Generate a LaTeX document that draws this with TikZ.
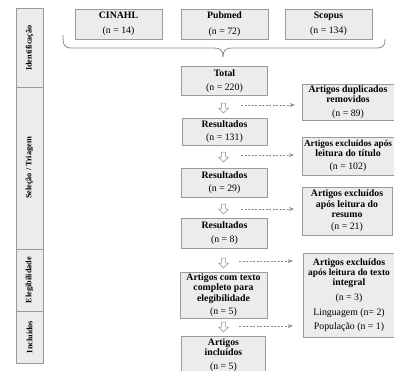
\documentclass[tikz,border=0pt]{standalone}
\usepackage{fontspec}
\setmainfont{Liberation Serif}
\usetikzlibrary{shapes.arrows,arrows.meta}
\definecolor{boxfill}{HTML}{ECECEC}
\definecolor{boxline}{HTML}{9A9A9A}
\definecolor{lnk}{HTML}{8A8A8A}
\begin{document}
\begin{tikzpicture}[x=1pt,y=-1pt,
  box/.style={draw=boxline, fill=boxfill, line width=0.7pt, align=center,
    font=\fontsize{9.8}{10.3}\selectfont, inner sep=1pt},
  side/.style={draw=boxline, fill=boxfill, line width=0.7pt, minimum width=27pt,
    font=\bfseries\fontsize{8.2}{9}\selectfont, inner sep=0pt},
  downarrow/.style={single arrow, draw=lnk, fill=white, line width=0.6pt, rotate=-90,
    minimum height=10pt, minimum width=10pt, single arrow head extend=2pt,
    single arrow head indent=0pt, inner sep=1.2pt},
  dashlink/.style={draw=lnk, dashed, line width=0.6pt, dash pattern=on 2pt off 1.5pt,
    -{Stealth[length=5pt,width=4pt,open]}},
  brace/.style={draw=lnk, line width=0.8pt}]
\useasboundingbox (0,0) rectangle (394,371);
\clip (0,0) rectangle (394,371);

% left stage column
\node[side, minimum height=79pt] (sid) at (29.5,48) {\rotatebox{90}{Identificação}};
\node[side, minimum height=162pt] (ssel) at (29.5,168) {\rotatebox{90}{Seleção / Triagem}};
\node[side, minimum height=62pt] (seleg) at (29.5,280) {\rotatebox{90}{Elegibilidade}};
\node[side, minimum height=52pt] (sinc) at (29.5,337) {\rotatebox{90}{Incluídos}};

% sources
\node[box, minimum width=87pt, minimum height=30pt] (cin) at (118.5,24) {\textbf{CINAHL}\\[5pt](n = 14)};
\node[box, minimum width=87pt, minimum height=30pt] (pub) at (224.5,24) {\textbf{Pubmed}\\[5pt](n = 72)};
\node[box, minimum width=87pt, minimum height=30pt] (sco) at (328.5,24) {\textbf{Scopus}\\[5pt](n = 134)};

% brace
\draw[brace] (63,35) .. controls (63,45) and (64,48) .. (72,48) -- (214,48)
  .. controls (220,48) and (223,50) .. (223,57);
\draw[brace] (223,57) .. controls (223,50) and (226,48) .. (232,48) -- (376,48)
  .. controls (384,48) and (385,45) .. (385,39);

% main column
\node[box, minimum width=86pt, minimum height=29pt] (tot) at (224.5,81) {\textbf{Total}\\[3pt](n = 220)};
\node[box, minimum width=85pt, minimum height=27pt] (r1) at (224.5,131.5) {\textbf{Resultados}\\[3pt](n = 131)};
\node[box, minimum width=86pt, minimum height=29pt] (r2) at (224.5,182.5) {\textbf{Resultados}\\[3pt](n = 29)};
\node[box, minimum width=86pt, minimum height=30pt] (r3) at (224.5,233) {\textbf{Resultados}\\[3pt](n = 8)};
\node[box, minimum width=87pt, minimum height=46pt] (comp) at (223.5,295) {\textbf{Artigos com texto}\\\textbf{completo para}\\\textbf{elegibilidade}\\[3pt](n = 5)};
\node[box, minimum width=84pt, minimum height=38pt] (inc) at (223.5,355) {\textbf{Artigos}\\\textbf{incluídos}\\[4pt](n = 5)};

% exclusion column
\node[box, minimum width=92pt, minimum height=36pt] (dup) at (348,102) {\textbf{Artigos duplicados}\\\textbf{removidos}\\[3pt](n = 89)};
\node[box, minimum width=92pt, minimum height=38pt] (tit) at (348,156) {{\fontsize{9.2}{10.3}\selectfont\textbf{Artigos excluídos após}}\\\textbf{leitura do título}\\[3pt](n = 102)};
\node[box, minimum width=90pt, minimum height=48pt] (res) at (347,211) {\textbf{Artigos excluídos}\\\textbf{após leitura do}\\\textbf{resumo}\\[2pt](n = 21)};
\node[box, minimum width=92pt, minimum height=84pt] (int) at (349,295) {\textbf{Artigos excluídos}\\{\fontsize{9.4}{10.3}\selectfont\textbf{após leitura do texto}}\\\textbf{integral}\\[4pt](n = 3)\\[5pt]Linguagem (n= 2)\\[4pt]População (n = 1)};

% hollow down arrows
\node[downarrow] (a1) at (223.5,107) {};
\node[downarrow] (a2) at (223.5,156) {};
\node[downarrow] (a3) at (223.5,208) {};
\node[downarrow] (a4) at (223.5,262) {};
\node[downarrow] (a5) at (223.5,326) {};

% dashed links
\coordinate (d1s) at (241,105); \coordinate (d1e) at (295,105);
\coordinate (d2s) at (241,155); \coordinate (d2e) at (294,155);
\coordinate (d3s) at (241,209); \coordinate (d3e) at (294,209);
\coordinate (d4s) at (239,261); \coordinate (d4e) at (293,261);
\coordinate (d5s) at (239,326); \coordinate (d5e) at (293,326);
\draw[dashlink] (d1s) -- (d1e);
\draw[dashlink] (d2s) -- (d2e);
\draw[dashlink] (d3s) -- (d3e);
\draw[dashlink] (d4s) -- (d4e);
\draw[dashlink] (d5s) -- (d5e);
\end{tikzpicture}
\end{document}
